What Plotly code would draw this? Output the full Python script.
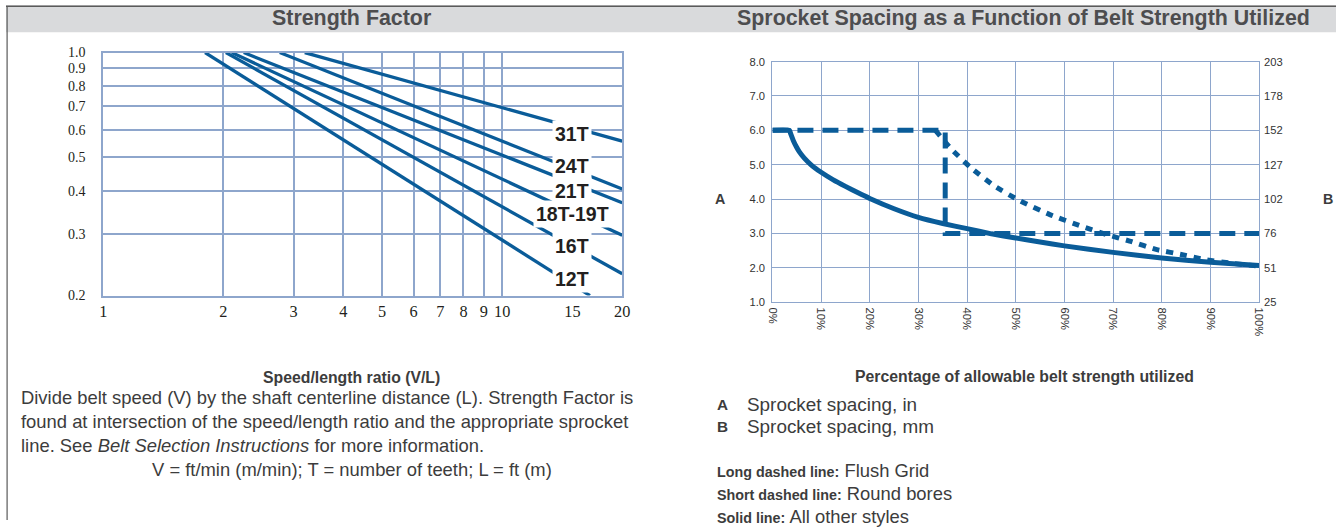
import math
import plotly.graph_objects as go

W, H = 1344, 528

# ---- Strength Factor: one straight line per sprocket size (log-log) ----
teeth = ["12T", "16T", "18T-19T", "21T", "24T", "31T"]
vl_start = [1.80, 2.03, 2.10, 2.25, 2.77, 3.20]
sf_start = [1.0, 1.0, 1.0, 1.0, 1.0, 1.0]
vl_end = [16.6, 20.0, 20.0, 20.0, 20.0, 20.0]
sf_end = [0.200, 0.231, 0.298, 0.370, 0.405, 0.556]
label_shift = [5, 0, -2, -8, 3, -7]   # px nudges for the tooth labels

vl_ticks = [1, 2, 3, 4, 5, 6, 7, 8, 9, 10, 15, 20]
vl_ticktext = ["1", "2", "3", "4", "5", "6", "7", "8", "9", "10", "15", "20"]
vl_grid = [2, 3, 4, 5, 6, 7, 8, 9, 10, 20]
sf_ticks = [0.2, 0.3, 0.4, 0.5, 0.6, 0.7, 0.8, 0.9, 1.0]
sf_ticktext = ["0.2", "0.3", "0.4", "0.5", "0.6", "0.7", "0.8", "0.9", "1.0"]

# ---- Sprocket spacing vs. belt strength utilized ----
pct_ticks = [0, 10, 20, 30, 40, 50, 60, 70, 80, 90, 100]
pct_ticktext = ["0%", "10%", "20%", "30%", "40%", "50%", "60%", "70%", "80%", "90%", "100%"]
in_ticks = [1, 2, 3, 4, 5, 6, 7, 8]
in_ticktext = ["1.0", "2.0", "3.0", "4.0", "5.0", "6.0", "7.0", "8.0"]
mm_ticks = [25.4, 50.8, 76.2, 101.6, 127.0, 152.4, 177.8, 203.2]
mm_ticktext = ["25", "51", "76", "102", "127", "152", "178", "203"]

flush_pct = [0, 35.5, 35.5, 100]
flush_in = [6.0, 6.0, 3.0, 3.0]

round_pct = [33.5, 36.8, 40.8, 45.6, 51.0, 57.0, 63.5, 68.6, 73.4, 79.0, 84.0, 89.0, 94.6, 100]
round_in = [6.0, 5.45, 4.91, 4.38, 3.94, 3.55, 3.21, 2.97, 2.78, 2.53, 2.39, 2.24, 2.13, 2.05]

other_pct = [0, 3.5, 3.8, 4.3, 5.0, 5.5, 6.5, 8, 10, 12.5, 15, 17.5, 20, 25, 30, 35, 40, 45, 50,
             55, 60, 70, 80, 90, 100]
other_in = [6.0, 6.0, 5.88, 5.7, 5.5, 5.38, 5.2, 4.99, 4.78, 4.56, 4.37, 4.19, 4.02, 3.72, 3.47,
            3.29, 3.14, 2.99, 2.87, 2.75, 2.64, 2.45, 2.29, 2.16, 2.07]

BLUE = "#0a5c99"
GRID = "#8ea6cc"
TXT = "#3c3c3c"
SANS = "Liberation Sans, Arial, Helvetica, sans-serif"
SERIF = "Liberation Serif, Times New Roman, serif"

# The page body keeps an 8px margin around the figure; place things by their
# on-page pixel position so the sheet lines up with the page edges.
PAGE_PAD = 8
SX = (W) / (W + 2 * PAGE_PAD)
SY = (H) / (H + 2 * PAGE_PAD)
FS = 1.02   # small font boost for the same reason


def px(x):
    return (x - PAGE_PAD * SX) / (W * SX)


def py(y):
    return 1 - (y - PAGE_PAD * SY) / (H * SY)


def note(x, y, text, size, color=TXT, xanchor="center", family=SANS, **kw):
    return dict(x=px(x), y=py(y), xref="paper", yref="paper", text=text, showarrow=False,
                xanchor=xanchor, yanchor="middle",
                font=dict(family=family, size=round(size * FS, 1), color=color), **kw)


fig = go.Figure()

for name, x0, y0, x1, y1 in zip(teeth, vl_start, sf_start, vl_end, sf_end):
    fig.add_trace(go.Scatter(x=[x0, x1], y=[y0, y1], mode="lines", xaxis="x", yaxis="y",
                             line=dict(color=BLUE, width=3.3), showlegend=False, hoverinfo="skip"))

fig.add_trace(go.Scatter(x=other_pct, y=other_in, mode="lines", xaxis="x2", yaxis="y3",
                         line=dict(color=BLUE, width=5, shape="spline", smoothing=0.4),
                         showlegend=False))
fig.add_trace(go.Scatter(x=round_pct, y=round_in, mode="lines", xaxis="x2", yaxis="y3",
                         line=dict(color=BLUE, width=5, dash="7px,7px", shape="spline", smoothing=0.5),
                         showlegend=False))
fig.add_trace(go.Scatter(x=flush_pct, y=flush_in, mode="lines", xaxis="x2", yaxis="y3",
                         line=dict(color=BLUE, width=5, dash="16px,9px"), showlegend=False))
# mm scale on the right shares the inch range
fig.add_trace(go.Scatter(x=[0, 100], y=[25.4, 203.2], mode="lines", xaxis="x2", yaxis="y4",
                         line=dict(width=0), opacity=0, showlegend=False, hoverinfo="skip"))

annotations = []
# tooth labels sit on their lines at V/L = 15
for name, x0, y0, x1, y1, dy in zip(teeth, vl_start, sf_start, vl_end, sf_end, label_shift):
    lx = 15.0
    t = (math.log10(lx) - math.log10(x0)) / (math.log10(x1) - math.log10(x0))
    ly = math.log10(y0) + t * (math.log10(y1) - math.log10(y0))
    annotations.append(dict(x=math.log10(lx), y=ly, xref="x", yref="y", text="<b>" + name + "</b>",
                            showarrow=False, xanchor="center", yanchor="middle", yshift=dy,
                            bgcolor="white", borderpad=2,
                            font=dict(family=SANS, size=19.5, color="#231f20")))

# headers
annotations.append(note(353, 19, "<b>Strength Factor</b>", 21, color="#4d4d4f"))
annotations.append(note(1024, 19, "<b>Sprocket Spacing as a Function of Belt Strength Utilized</b>", 21,
                        color="#4d4d4f"))

# axis captions
annotations.append(note(353, 378, "<b>Speed/length ratio (V/L)</b>", 15.5))
annotations.append(note(1025, 377, "<b>Percentage of allowable belt strength utilized</b>", 15.5))
annotations.append(note(721, 200, "<b>A</b>", 14))
annotations.append(note(1328, 200, "<b>B</b>", 14))

# explanatory text, left column
para = [
    "Divide belt speed (V) by the shaft centerline distance (L). Strength Factor is",
    "found at intersection of the speed/length ratio and the appropriate sprocket",
    "line. See <i>Belt Selection Instructions</i> for more information.",
]
for i, line in enumerate(para):
    annotations.append(note(21, 398 + 24 * i, line, 18, xanchor="left"))
annotations.append(note(353, 470, "V = ft/min (m/min); T = number of teeth; L = ft (m)", 18))

# key, right column
key = [("A", "Sprocket spacing, in", 405), ("B", "Sprocket spacing, mm", 427)]
for k, txt, y in key:
    annotations.append(note(716, y, "<b>" + k + "</b>", 15, xanchor="left"))
    annotations.append(note(746, y, txt, 18.5, xanchor="left"))
styles = [("Long dashed line:", "Flush Grid", 471), ("Short dashed line:", "Round bores", 494),
          ("Solid line:", "All other styles", 517)]
for k, txt, y in styles:
    annotations.append(note(716, y, "<span style='font-size:14.3px'><b>" + k + "</b></span> " + txt,
                            18, xanchor="left"))

shapes = [
    dict(type="rect", xref="paper", yref="paper", x0=0, x1=1, y0=py(33), y1=py(6),
         fillcolor="#d9dadc", line=dict(width=0), layer="below"),
    dict(type="line", xref="paper", yref="paper", x0=0, x1=1, y0=py(7), y1=py(7),
         line=dict(color="#5a5a5a", width=1.5)),
    dict(type="line", xref="paper", yref="paper", x0=px(9), x1=px(9), y0=0, y1=py(7),
         line=dict(color="#5a5a5a", width=1.2)),
    # dashed reference line at V/L = 15 through the label column
    dict(type="line", xref="x", yref="y", x0=math.log10(15), x1=math.log10(15),
         y0=math.log10(0.2), y1=math.log10(0.64), layer="below",
         line=dict(color=GRID, width=1.6, dash="4px,3px")),
]

x_font_serif = dict(family=SERIF, size=16.3, color="#231f20")
y_font_serif = dict(family=SERIF, size=14, color="#231f20")
axis_font_sans = dict(family=SANS, size=11.2, color="#333333")

fig.update_layout(
    width=W, height=H, margin=dict(l=0, r=0, t=0, b=0), autosize=False,
    paper_bgcolor="white", plot_bgcolor="white",
    annotations=annotations, shapes=shapes, showlegend=False,
    xaxis=dict(domain=[px(105), px(623.3)], anchor="y", type="log", range=[0, math.log10(20)],
               tickmode="array", tickvals=vl_ticks, ticktext=vl_ticktext,
               showgrid=False, showline=True, mirror=True,
               minor=dict(tickmode="array", tickvals=vl_grid, showgrid=True, gridcolor=GRID,
                          gridwidth=2, ticks=""),
               linecolor=GRID, linewidth=2, ticks="", ticklabelstandoff=0, zeroline=False,
               tickfont=x_font_serif),
    yaxis=dict(domain=[py(296), py(53.3)], anchor="x", type="log", range=[math.log10(0.2), 0],
               tickmode="array", tickvals=sf_ticks, ticktext=sf_ticktext,
               showgrid=True, gridcolor=GRID, gridwidth=2, showline=True, mirror=True,
               linecolor=GRID, linewidth=2, ticks="", ticklabelstandoff=13, zeroline=False,
               tickfont=y_font_serif),
    xaxis2=dict(domain=[px(773.3), px(1259.3)], anchor="y3", range=[0, 100],
                tickmode="array", tickvals=pct_ticks, ticktext=pct_ticktext, tickangle=90,
                showgrid=True, gridcolor=GRID, gridwidth=1.3, showline=True, mirror=True,
                linecolor=GRID, linewidth=1.3, ticks="", ticklabelstandoff=2, zeroline=False,
                tickfont=axis_font_sans),
    yaxis3=dict(domain=[py(302.7), py(62.3)], anchor="x2", range=[1, 8],
                tickmode="array", tickvals=in_ticks, ticktext=in_ticktext,
                showgrid=True, gridcolor=GRID, gridwidth=1.3, showline=True, mirror=True,
                linecolor=GRID, linewidth=1.3, ticks="", ticklabelstandoff=4, zeroline=False,
                tickfont=axis_font_sans),
    yaxis4=dict(domain=[py(302.7), py(62.3)], anchor="x2", overlaying="y3", side="right",
                range=[25.4, 203.2], tickmode="array", tickvals=mm_ticks, ticktext=mm_ticktext,
                showgrid=False, showline=False, ticks="", ticklabelstandoff=4, zeroline=False,
                tickfont=axis_font_sans),
)

fig.write_html("out.html", config={"responsive": False})
